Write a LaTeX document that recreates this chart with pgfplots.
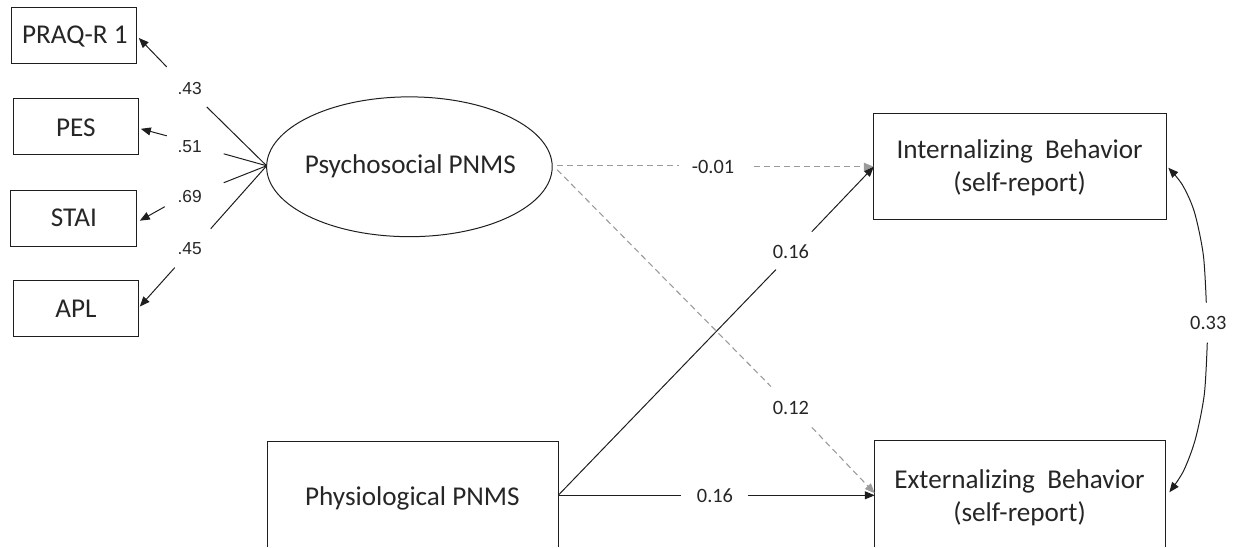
\documentclass[border=0pt]{standalone}
\usepackage{pgfplots}
\pgfplotsset{compat=1.18}
\usepackage{fontspec}
\setmainfont{Carlito}
\newfontfamily\arialfont{Liberation Sans}
\usetikzlibrary{arrows.meta}
\definecolor{dgray}{RGB}{155,155,155}
\definecolor{lcol}{RGB}{30,30,30}
\tikzset{
  ln/.style={lcol, line width=0.5pt},
  arr/.style={lcol, line width=0.5pt, -{Triangle[length=5pt,width=4pt]}},
  dln/.style={dgray, line width=0.55pt, dash pattern=on 3pt off 2pt},
  darr/.style={dgray, line width=0.55pt, dash pattern=on 3pt off 2pt, -{Triangle[length=5pt,width=4pt]}},
  big/.style={font=\fontsize{13.6}{16.5}\selectfont, text=black!85},
  lab/.style={font=\fontsize{10.2}{12}\selectfont, text=black!85},
  llab/.style={font=\arialfont\fontsize{8.7}{10}\selectfont, text=black!85},
}
\begin{document}
\begin{tikzpicture}
\begin{axis}[
  width=616.5pt, height=274pt, scale only axis,
  xmin=0, xmax=1233, ymin=0, ymax=548, y dir=reverse,
  hide axis, clip=false,
]
\path (axis cs:0,0) rectangle (axis cs:1233,548);
% left indicator boxes
\addplot[ln] coordinates {(12,8) (137,8) (137,64) (12,64) (12,8) (137,8)};
\addplot[ln] coordinates {(14,99) (139,99) (139,155) (14,155) (14,99) (139,99)};
\addplot[ln] coordinates {(11,191) (137,191) (137,247) (11,247) (11,191) (137,191)};
\addplot[ln] coordinates {(14,281) (139,281) (139,337) (14,337) (14,281) (139,281)};
\node[big] at (axis cs:75,37) {PRAQ-R 1};
\node[big] at (axis cs:76,128) {PES};
\node[big] at (axis cs:74,218) {STAI};
\node[big] at (axis cs:76,309) {APL};
% latent ellipse
\draw[lcol, line width=0.5pt] (axis cs:410,167) ellipse [x radius=71.5pt, y radius=35pt];
\node[big] at (axis cs:411,166) {Psychosocial PNMS};
% loadings
\addplot[ln] coordinates {(267,166) (207,107)};
\addplot[arr] coordinates {(167,67) (139,38)};
\addplot[ln] coordinates {(267,166) (224,154)};
\addplot[arr] coordinates {(167,136) (141,129)};
\addplot[ln] coordinates {(267,166) (224,183)};
\addplot[arr] coordinates {(165,207) (140,221)};
\addplot[ln] coordinates {(267,166) (211,229)};
\addplot[arr] coordinates {(175,268) (140,307)};
\node[llab] at (axis cs:190,89) {.43};
\node[llab] at (axis cs:190,147) {.51};
\node[llab] at (axis cs:190,197) {.69};
\node[llab] at (axis cs:190,249) {.45};
% outcome boxes
\addplot[ln] coordinates {(875,114) (1168,114) (1168,220) (875,220) (875,114) (1168,114)};
\node[big, align=center] at (axis cs:1021,168) {Internalizing\ \ Behavior\\(self-report)};
\addplot[ln] coordinates {(876,548) (876,441) (1167,441) (1167,548)};
\node[big, align=center] at (axis cs:1021,498) {Externalizing\ \ Behavior\\(self-report)};
\addplot[ln] coordinates {(268,548) (268,442) (559,442) (559,548)};
\node[big] at (axis cs:413,499) {Physiological PNMS};
% structural paths
\addplot[dln] coordinates {(558,166) (680,166)};
\addplot[darr] coordinates {(755,167) (875,167)};
\node[lab] at (axis cs:714,167) {-0.01};
\addplot[dln] coordinates {(558,170) (772,387)};
\addplot[darr] coordinates {(813,428) (876,494)};
\node[lab] at (axis cs:792,409) {0.12};
\addplot[ln] coordinates {(559,496) (777,270)};
\addplot[arr] coordinates {(813,232) (875,167)};
\node[lab] at (axis cs:792,252) {0.16};
\addplot[ln] coordinates {(559,496) (682,496)};
\addplot[arr] coordinates {(749,496) (876,496)};
\node[lab] at (axis cs:716,496) {0.16};
% correlation
\addplot[arr, smooth] coordinates {(1208,303) (1205,255) (1196,212) (1184,185) (1170,168)};
\addplot[arr, smooth] coordinates {(1209,343) (1206,395) (1197,440) (1185,472) (1171,493)};
\node[lab] at (axis cs:1210,323) {0.33};
\end{axis}
\end{tikzpicture}
\end{document}
